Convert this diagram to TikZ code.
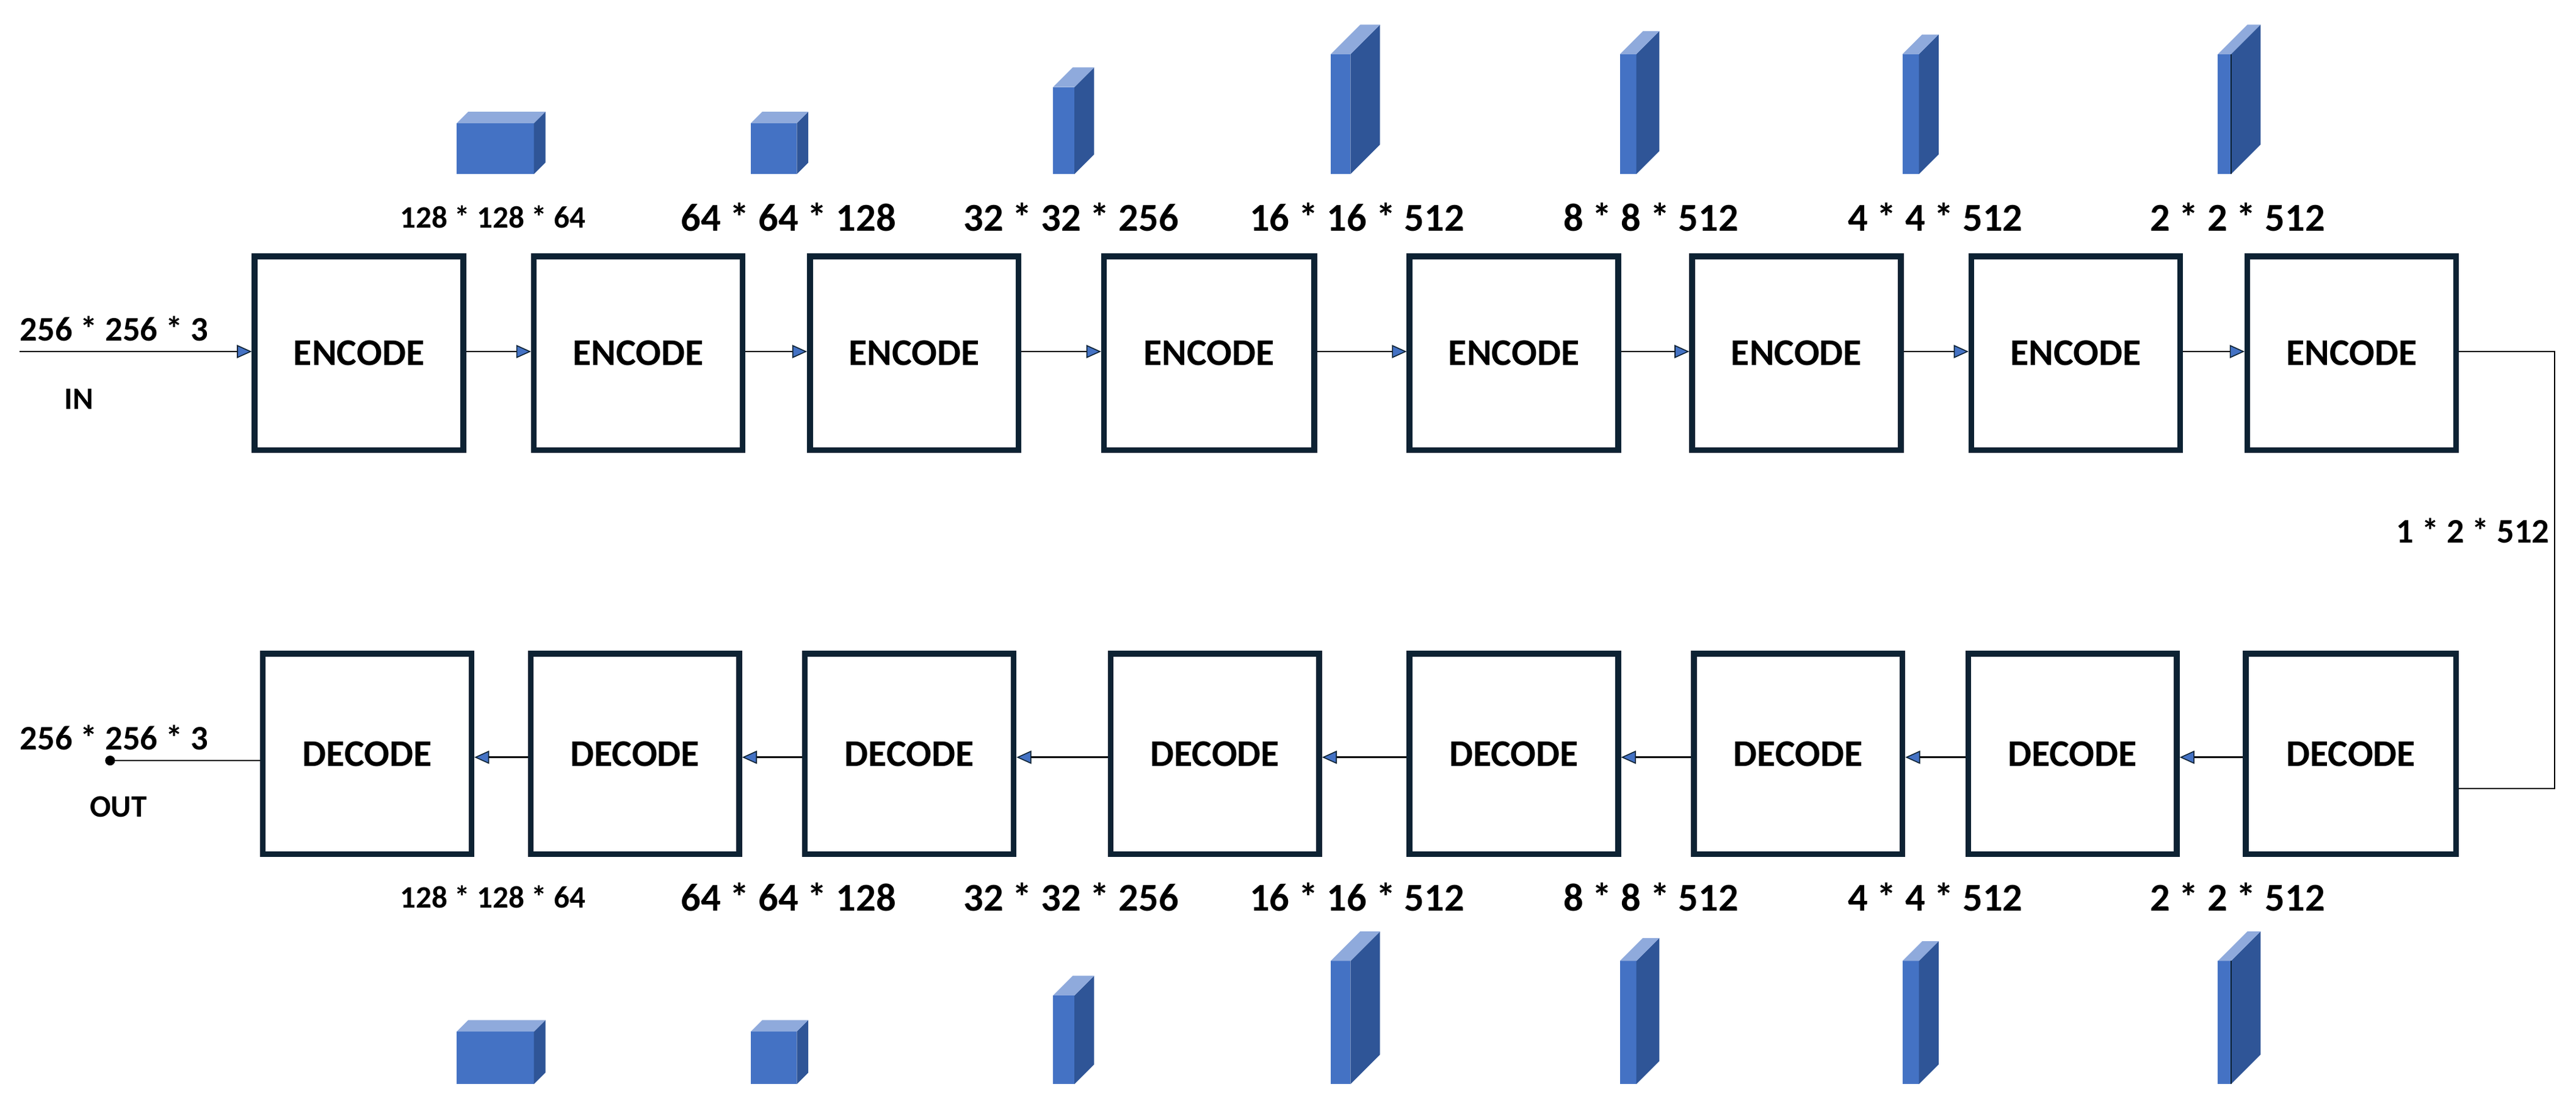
\documentclass[tikz,border=0pt]{standalone}
\usepackage{fontspec}
\setmainfont{Carlito}
\usetikzlibrary{arrows.meta}
\definecolor{bx}{HTML}{0D2233}
\definecolor{cf}{HTML}{4472C4}
\definecolor{cs}{HTML}{2F5597}
\definecolor{ct}{HTML}{8FAADC}
\tikzset{
 blk/.style={draw=bx,line width=3.5pt,minimum width=124pt,minimum height=118pt,inner sep=0pt,font=\fontsize{23}{23}\selectfont\bfseries},
 lab/.style={font=\fontsize{24}{24}\selectfont\bfseries,inner sep=0pt},
 ilab/.style={font=\fontsize{21}{21}\selectfont\bfseries,inner sep=0pt},
 slab/.style={font=\fontsize{19}{19}\selectfont\bfseries,inner sep=0pt},
 ar/.style={line width=1pt,-{Triangle[length=9pt,width=8pt,fill=cf,color=bx,line width=0.6pt]}},
}
\newcommand{\mycube}[5]{% x1 x2 ytop ybot depth
 \fill[cf] (#1,#3) rectangle (#2,#4);
 \fill[cs] (#2,#3) -- (#2+#5,#3-#5) -- (#2+#5,#4-#5) -- (#2,#4) -- cycle;
 \fill[ct] (#1,#3) -- (#1+#5,#3-#5) -- (#2+#5,#3-#5) -- (#2,#3) -- cycle;
}
\begin{document}
\begin{tikzpicture}[x=1pt,y=-1pt]
\useasboundingbox (0,0) rectangle (1568,675);
% encoders
\foreach \n/\a/\b in {1/155/282,2/325/452,3/493/620,4/672/800,5/858/985,6/1030/1157,7/1200/1327,8/1368/1495}
 \node[blk,minimum width={\b-\a}] (e\n) at ({(\a+\b)/2},215) {ENCODE};
\foreach \n/\a/\b in {1/160/287,2/323/450,3/490/617,4/676/803,5/858/985,6/1031/1158,7/1198/1325,8/1367/1495}
 \node[blk,minimum width={\b-\a},minimum height=122pt] (d\n) at ({(\a+\b)/2},459) {DECODE};
% arrows
\coordinate (in) at (12,214);
\draw[ar] (in) -- (e1.west|-in);
\foreach \i/\j in {1/2,2/3,3/4,4/5,5/6,6/7,7/8}
 \draw[ar] (e\i.east|-in) -- (e\j.west|-in);
\foreach \i/\j in {8/7,7/6,6/5,5/4,4/3,3/2,2/1}
 \draw[ar] (d\i.west|-0,461) -- (d\j.east|-0,461);
\coordinate (out) at (67,463);
\draw[line width=1pt] (d1.west|-out) -- (out);
\fill (out) circle (3pt);
\coordinate (r1) at (1555,214);
\coordinate (r2) at (1555,480);
\draw[line width=1pt] (e8.east|-r1) -- (r1) -- (r2) -- (d8.east|-r2);
\node[ilab,anchor=east] (mid) at (1552,323) {1 * 2 * 512};
% io labels
\node[ilab,anchor=west] (il) at (12,200) {256 * 256 * 3};
\node[slab] (in2) at (48,243) {IN};
\node[ilab,anchor=west] (ol) at (12,449) {256 * 256 * 3};
\node[slab] (ou) at (72,491) {OUT};
% size labels
\foreach \y/\k in {132/t,546/b}{
 \node[slab] (s1\k) at (300,\y) {128 * 128 * 64};
 \node[lab] (s2\k) at (480,\y) {64 * 64 * 128};
 \node[lab] (s3\k) at (652,\y) {32 * 32 * 256};
 \node[lab] (s4\k) at (826,\y) {16 * 16 * 512};
 \node[lab] (s5\k) at (1005,\y) {8 * 8 * 512};
 \node[lab] (s6\k) at (1178,\y) {4 * 4 * 512};
 \node[lab] (s7\k) at (1362,\y) {2 * 2 * 512};
}
% cubes
\mycube{278}{325}{75}{106}{7}
\mycube{457}{485}{75}{106}{7}
\mycube{641}{654}{53}{106}{12}
\mycube{810}{822}{33}{106}{18}
\mycube{986}{996}{33}{106}{14}
\mycube{1158}{1168}{33}{106}{12}
\mycube{1350}{1358}{33}{106}{18}
\draw[bx,line width=0.8pt] (1358,33)--(1358,106);
\mycube{278}{325}{628}{660}{7}
\mycube{457}{485}{628}{660}{7}
\mycube{641}{654}{606}{660}{12}
\mycube{810}{822}{585}{660}{18}
\mycube{986}{996}{585}{660}{14}
\mycube{1158}{1168}{585}{660}{12}
\mycube{1350}{1358}{585}{660}{18}
\draw[bx,line width=0.8pt] (1358,585)--(1358,660);
\end{tikzpicture}
\end{document}
